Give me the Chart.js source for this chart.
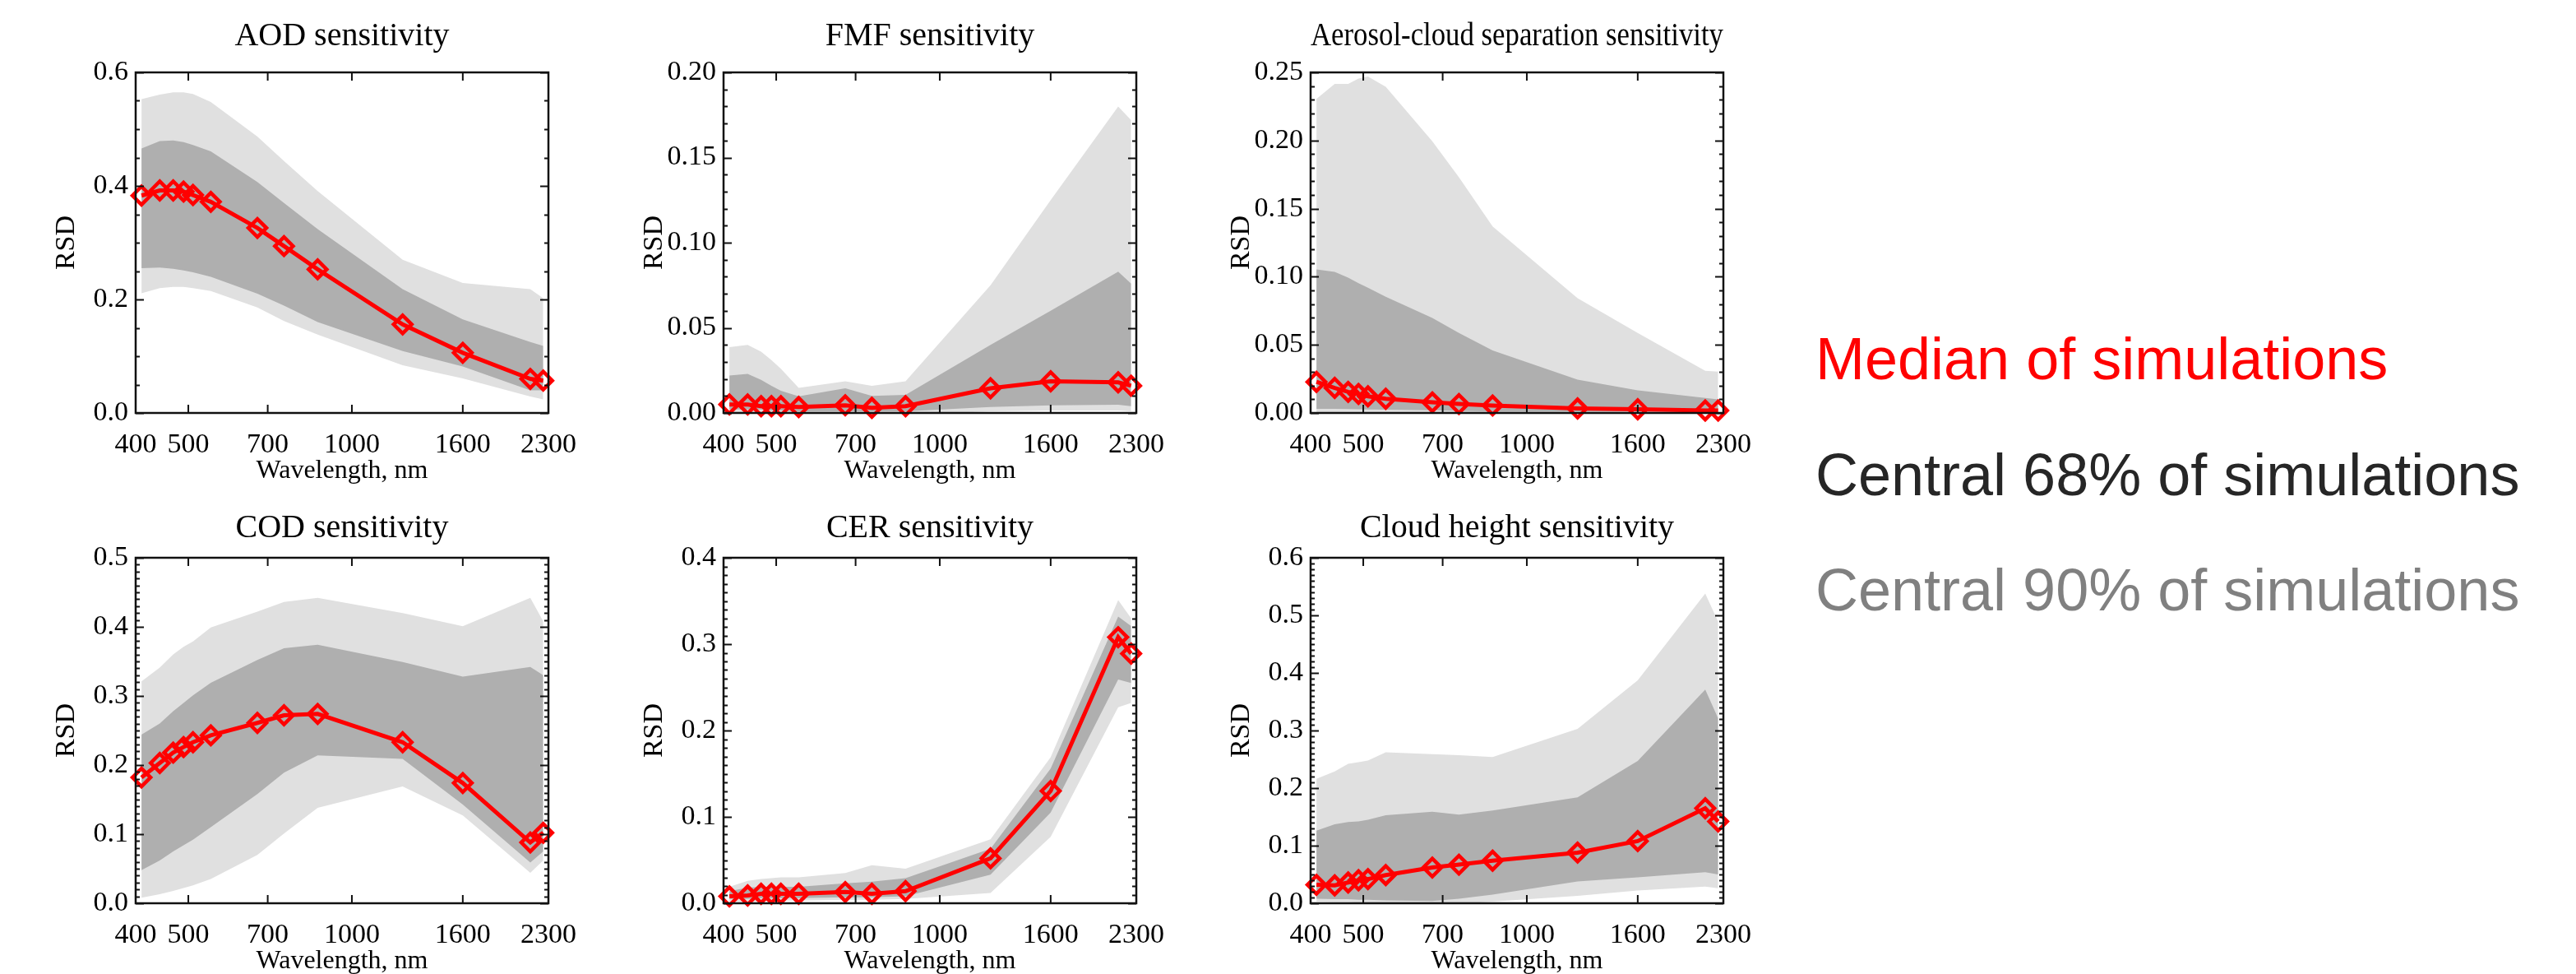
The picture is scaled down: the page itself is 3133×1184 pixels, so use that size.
<!DOCTYPE html>
<html>
<head>
<meta charset="utf-8">
<script src="https://cdn.jsdelivr.net/npm/chart.js@4.4.0/dist/chart.umd.min.js"></script>
<style>
  body { margin: 0; background: #fff; width: 3133px; height: 1184px; position: relative; overflow: hidden; }
  .panel { position: absolute; }
  .key { position: absolute; left: 2208px; font-family: 'Liberation Sans', Arial, sans-serif; font-size: 72px; line-height: 72px; white-space: nowrap; }
</style>
</head>
<body>
<div class="key" style="top:400px;color:#ff0000">Median of simulations</div>
<div class="key" style="top:541px;color:#262626">Central 68% of simulations</div>
<div class="key" style="top:681px;color:#808080">Central 90% of simulations</div>

<script>
// wavelengths of the simulated bands, nm
const wavelengths = [410, 443, 469, 490, 510, 550, 670, 750, 865, 1240, 1600, 2130, 2250];
const xTickValues = [400, 500, 700, 1000, 1600, 2300];

// AOD
const aodMedian = [0.383, 0.392, 0.392, 0.390, 0.384, 0.372, 0.326, 0.294, 0.253, 0.156, 0.106, 0.060, 0.057];
const aodHi68 = [0.466, 0.479, 0.480, 0.477, 0.472, 0.461, 0.407, 0.370, 0.324, 0.218, 0.165, 0.125, 0.118];
const aodLo68 = [0.255, 0.256, 0.254, 0.251, 0.248, 0.240, 0.210, 0.189, 0.160, 0.109, 0.082, 0.040, 0.040];
const aodHi90 = [0.553, 0.561, 0.565, 0.565, 0.562, 0.548, 0.487, 0.444, 0.391, 0.270, 0.229, 0.218, 0.202];
const aodLo90 = [0.211, 0.220, 0.222, 0.222, 0.220, 0.215, 0.186, 0.162, 0.138, 0.084, 0.061, 0.029, 0.024];

// FMF
const fmfMedian = [0.005, 0.005, 0.004, 0.004, 0.004, 0.0035, 0.0045, 0.003, 0.004, 0.0145, 0.0186, 0.018, 0.016];
const fmfHi68 = [0.022, 0.023, 0.0195, 0.016, 0.013, 0.0098, 0.0145, 0.010, 0.0106, 0.040, 0.060, 0.083, 0.076];
const fmfLo68 = [0.002, 0.002, 0.002, 0.0015, 0.0015, 0.001, 0.001, 0.001, 0.001, 0.0035, 0.0045, 0.0048, 0.004];
const fmfHi90 = [0.0387, 0.040, 0.036, 0.031, 0.026, 0.0147, 0.0186, 0.016, 0.0186, 0.075, 0.125, 0.180, 0.172];
const fmfLo90 = [0.000, 0.000, 0.000, 0.000, 0.000, -0.001, -0.001, -0.001, -0.001, 0.001, 0.0015, 0.0015, 0.001];

// aerosol-cloud separation
const sepMedian = [0.0228, 0.0184, 0.0155, 0.014, 0.0122, 0.0104, 0.0078, 0.0066, 0.0055, 0.0033, 0.0027, 0.0018, 0.0018];
const sepHi68 = [0.1053, 0.1035, 0.0993, 0.0953, 0.092, 0.0853, 0.0698, 0.0587, 0.0459, 0.0244, 0.0166, 0.011, 0.010];
const sepLo68 = [0.003, 0.003, 0.0028, 0.0027, 0.0026, 0.0024, 0.002, 0.0015, 0.001, 0.001, 0.001, 0.001, 0.001];
const sepHi90 = [0.2305, 0.2416, 0.2416, 0.2455, 0.247, 0.2394, 0.1995, 0.173, 0.137, 0.0842, 0.0587, 0.031, 0.0304];
const sepLo90 = [0.0002, 0.0002, 0.0002, 0.0002, 0.0002, 0.0002, 0.0002, 0.0, -0.001, -0.001, -0.001, -0.001, -0.001];

// COD
const codMedian = [0.182, 0.203, 0.218, 0.226, 0.233, 0.243, 0.261, 0.272, 0.274, 0.233, 0.174, 0.088, 0.102];
const codHi68 = [0.244, 0.260, 0.278, 0.290, 0.301, 0.319, 0.352, 0.369, 0.374, 0.349, 0.328, 0.342, 0.330];
const codLo68 = [0.048, 0.062, 0.075, 0.084, 0.092, 0.110, 0.158, 0.189, 0.214, 0.209, 0.143, 0.059, 0.075];
const codHi90 = [0.321, 0.341, 0.360, 0.371, 0.379, 0.399, 0.422, 0.436, 0.442, 0.420, 0.401, 0.442, 0.408];
const codLo90 = [0.008, 0.013, 0.018, 0.022, 0.026, 0.035, 0.070, 0.101, 0.138, 0.169, 0.127, 0.044, 0.062];

// CER
const cerMedian = [0.008, 0.009, 0.011, 0.011, 0.011, 0.011, 0.013, 0.011, 0.014, 0.052, 0.130, 0.308, 0.289];
const cerHi68 = [0.014, 0.018, 0.019, 0.019, 0.019, 0.019, 0.023, 0.025, 0.029, 0.063, 0.156, 0.332, 0.321];
const cerLo68 = [0.005, 0.005, 0.006, 0.006, 0.006, 0.006, 0.007, 0.007, 0.008, 0.033, 0.105, 0.259, 0.255];
const cerHi90 = [0.019, 0.026, 0.028, 0.029, 0.030, 0.030, 0.035, 0.044, 0.040, 0.074, 0.169, 0.351, 0.330];
const cerLo90 = [0.002, 0.002, 0.002, 0.003, 0.003, 0.003, 0.004, 0.004, 0.005, 0.012, 0.077, 0.227, 0.232];

// cloud height
const hgtMedian = [0.032, 0.031, 0.036, 0.040, 0.042, 0.049, 0.062, 0.067, 0.074, 0.088, 0.108, 0.165, 0.142];
const hgtHi68 = [0.126, 0.137, 0.141, 0.142, 0.145, 0.153, 0.159, 0.154, 0.161, 0.184, 0.247, 0.371, 0.321];
const hgtLo68 = [0.008, 0.007, 0.007, 0.006, 0.006, 0.005, 0.004, 0.008, 0.015, 0.038, 0.045, 0.054, 0.050];
const hgtHi90 = [0.216, 0.229, 0.242, 0.245, 0.248, 0.262, 0.259, 0.257, 0.254, 0.303, 0.387, 0.538, 0.489];
const hgtLo90 = [0.003, 0.002, 0.002, 0.001, 0.001, 0.001, -0.001, -0.001, 0.003, 0.013, 0.022, 0.029, 0.026];

const panels = [
  { title: 'AOD sensitivity', median: aodMedian, hi68: aodHi68, lo68: aodLo68, hi90: aodHi90, lo90: aodLo90, yMax: 0.6, major: 0.2, minor: 0.05 },
  { title: 'FMF sensitivity', median: fmfMedian, hi68: fmfHi68, lo68: fmfLo68, hi90: fmfHi90, lo90: fmfLo90, yMax: 0.2, major: 0.05, minor: 0.01 },
  { title: 'Aerosol-cloud separation sensitivity', median: sepMedian, hi68: sepHi68, lo68: sepLo68, hi90: sepHi90, lo90: sepLo90, yMax: 0.25, major: 0.05, minor: 0.01 },
  { title: 'COD sensitivity', median: codMedian, hi68: codHi68, lo68: codLo68, hi90: codHi90, lo90: codLo90, yMax: 0.5, major: 0.1, minor: 0.01 },
  { title: 'CER sensitivity', median: cerMedian, hi68: cerHi68, lo68: cerLo68, hi90: cerHi90, lo90: cerLo90, yMax: 0.4, major: 0.1, minor: 0.01 },
  { title: 'Cloud height sensitivity', median: hgtMedian, hi68: hgtHi68, lo68: hgtLo68, hi90: hgtHi90, lo90: hgtLo90, yMax: 0.6, major: 0.1, minor: 0.01 }
];

// layout of the plot areas on the page
const colLeft = [165, 880, 1594];
const plotW = 510;
const rowTop = [88, 678];
const rowH = [414, 420];
const titleGap = [44, 36];
const padL = 150, padT = 90, padR = 45, padB = 100;

const SERIF = "'Liberation Serif', 'Times New Roman', serif";
const LIGHT = '#e0e0e0';
const DARK = '#afafaf';

// black box with inward ticks, like IDL plots
const frameTicks = {
  id: 'frameTicks',
  afterDatasetsDraw(chart, args, opts) {
    const { ctx, chartArea: a, scales: { x, y } } = chart;
    ctx.save();
    ctx.strokeStyle = '#111';
    ctx.lineWidth = 2;
    ctx.beginPath();
    x.ticks.forEach(t => {
      const px = x.getPixelForValue(t.value);
      ctx.moveTo(px, a.bottom); ctx.lineTo(px, a.bottom - 10);
      ctx.moveTo(px, a.top); ctx.lineTo(px, a.top + 10);
    });
    const n = Math.round(y.max / opts.minor);
    for (let i = 0; i <= n; i++) {
      const v = i * opts.minor;
      const py = Math.round(y.getPixelForValue(v)) + 0.5;
      const r = v / opts.major;
      const len = Math.abs(r - Math.round(r)) < 1e-6 ? 10 : 5;
      ctx.moveTo(a.left, py); ctx.lineTo(a.left + len, py);
      ctx.moveTo(a.right, py); ctx.lineTo(a.right - len, py);
    }
    ctx.stroke();
    ctx.lineWidth = 2.5;
    ctx.strokeRect(a.left, a.top, a.right - a.left, a.bottom - a.top);
    ctx.restore();
  }
};

const pts = arr => arr.map((v, i) => ({ x: wavelengths[i], y: v }));

panels.forEach((p, k) => {
  const col = k % 3, row = Math.floor(k / 3);
  const box = document.createElement('div');
  box.className = 'panel';
  box.style.left = (colLeft[col] - padL) + 'px';
  box.style.top = (rowTop[row] - padT) + 'px';
  box.style.width = (padL + plotW + padR) + 'px';
  box.style.height = (padT + rowH[row] + padB) + 'px';
  const canvas = document.createElement('canvas');
  box.appendChild(canvas);
  document.body.appendChild(box);

  const tPadTop = padT - titleGap[row] - 24;
  const dec = p.major < 0.1 ? 2 : 1;

  new Chart(canvas, {
    type: 'line',
    data: {
      datasets: [
        { data: pts(p.median), borderColor: '#ff0000', borderWidth: 5, fill: false, clip: false,
          pointStyle: 'rectRot', pointRadius: 11, pointBorderWidth: 4.5,
          pointBorderColor: '#ff0000', pointBackgroundColor: 'rgba(0,0,0,0)' },
        { data: pts(p.hi68), borderWidth: 0, borderColor: 'rgba(0,0,0,0)', pointRadius: 0, backgroundColor: DARK, fill: '+1' },
        { data: pts(p.lo68), borderWidth: 0, borderColor: 'rgba(0,0,0,0)', pointRadius: 0, fill: false },
        { data: pts(p.hi90), borderWidth: 0, borderColor: 'rgba(0,0,0,0)', pointRadius: 0, backgroundColor: LIGHT, fill: '+1' },
        { data: pts(p.lo90), borderWidth: 0, borderColor: 'rgba(0,0,0,0)', pointRadius: 0, fill: false }
      ]
    },
    options: {
      responsive: true,
      maintainAspectRatio: false,
      animation: false,
      events: [],
      devicePixelRatio: 1,
      layout: { padding: { left: 0, right: padR, top: 0, bottom: 0 } },
      plugins: {
        legend: { display: false },
        tooltip: { enabled: false },
        title: {
          display: true, text: p.title, fullSize: false, color: '#000',
          font: { family: SERIF, size: 40, weight: 'normal', lineHeight: 1.2 },
          padding: { top: tPadTop, bottom: padT - tPadTop - 48 }
        },
        frameTicks: { major: p.major, minor: p.minor }
      },
      scales: {
        x: {
          type: 'logarithmic', min: 400, max: 2300,
          afterBuildTicks: s => { s.ticks = xTickValues.map(v => ({ value: v })); },
          afterFit: s => { s.height = padB; },
          grid: { display: false, drawTicks: false },
          border: { display: false },
          ticks: { autoSkip: false, maxRotation: 0, color: '#000', padding: 19,
                   font: { family: SERIF, size: 34 }, callback: v => String(v) },
          title: { display: true, text: 'Wavelength, nm', color: '#000',
                   font: { family: SERIF, size: 32, lineHeight: 1.2 }, padding: { top: 0, bottom: 10 } }
        },
        y: {
          type: 'linear', min: 0, max: p.yMax,
          afterFit: s => { s.width = padL; },
          grid: { display: false, drawTicks: false },
          border: { display: false },
          ticks: { stepSize: p.major, color: '#000', padding: 9,
                   font: { family: SERIF, size: 34 }, callback: v => v.toFixed(dec) },
          title: { display: true, text: 'RSD', color: '#000',
                   font: { family: SERIF, size: 34, lineHeight: 1.2 }, padding: { top: 46, bottom: 0 } }
        }
      }
    },
    plugins: [frameTicks]
  });
});
</script>
</body>
</html>
